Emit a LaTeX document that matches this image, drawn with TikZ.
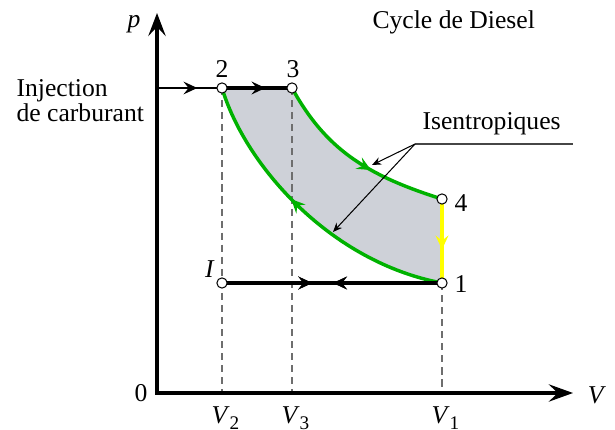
\documentclass[tikz,border=0pt]{standalone}
\usepackage{fontspec}
\setmainfont{Liberation Serif}
\usetikzlibrary{arrows.meta,decorations.markings}
\definecolor{cyclefill}{RGB}{206,209,216}
\definecolor{isogreen}{RGB}{0,178,0}
\definecolor{isoyellow}{RGB}{255,255,0}
\definecolor{dashgray}{RGB}{110,110,110}
\definecolor{leadgray}{RGB}{70,70,70}
\begin{document}
\begin{tikzpicture}[x=0.39pt,y=-0.39pt,
  font=\fontsize{10}{12}\selectfont,
  midarrow/.style={postaction={decorate},decoration={markings,
    mark=at position #1 with {\arrow{Stealth[length=5.4pt,width=5pt,inset=2pt]}}}},
  backarrow/.style={postaction={decorate},decoration={markings,
    mark=at position #1 with {\arrowreversed{Stealth[length=5.4pt,width=5pt,inset=2pt]}}}},
  axisline/.style={line width=1.2pt,black},
  thickline/.style={line width=1.3pt,black},
  greenline/.style={line width=1.35pt,isogreen},
  yellowline/.style={line width=1.3pt,isoyellow},
  dashline/.style={line width=0.5pt,dashgray,dash pattern=on 2.8pt off 1.9pt},
  thinarrow/.style={line width=0.4pt,black,-{Stealth[length=3.6pt,width=3pt,inset=1.2pt]}},
  ptc/.style={circle,draw,fill=white,inner sep=0pt,minimum size=4pt,line width=0.4pt},
  lbl/.style={inner sep=0pt,anchor=base}
]
\useasboundingbox (0,0) rectangle (615,430);
% key coordinates (pixel grid of the reference)
\coordinate (O) at (157,393);
\coordinate (Py) at (157,13);
\coordinate (Vx) at (573,393);
\coordinate (c1) at (442,283);
\coordinate (c2) at (222,88);
\coordinate (c3) at (292,88);
\coordinate (c4) at (442,199);
\coordinate (cI) at (222,283);
\coordinate (inj) at (157,88);
\coordinate (a1) at (442,393);
\coordinate (a2) at (222,393);
\coordinate (a3) at (292,393);
\coordinate (ann) at (415,144);
\coordinate (annend) at (573,144);
\coordinate (tipU) at (372,165);
\coordinate (tipL) at (333,232);

% shaded cycle area
\fill[cyclefill] (c2) -- (c3) .. controls (325,148) and (365,175) .. (c4)
  -- (c1) .. controls (330,262) and (245,165) .. (c2) -- cycle;

% dashed guides
\draw[dashline] (c2) -- (a2);
\draw[dashline] (c3) -- (a3);
\draw[dashline] (c1) -- (a1);

% axes
\draw[axisline,line join=miter,{Stealth[length=9pt,width=6.8pt,inset=3.6pt]}-{Stealth[length=9.5pt,width=6.8pt,inset=3.6pt]}]
  (Py) -- (O) -- (Vx);

% injection arrow
\draw[line width=0.5pt,black,midarrow=0.62] (inj) -- (c2);

% cycle paths
\draw[thickline,midarrow=0.62] (c2) -- (c3);
\draw[greenline,midarrow=0.6] (c3) .. controls (325,148) and (365,175) .. (c4);
\draw[yellowline,midarrow=0.6] (c4) -- (c1);
\draw[greenline,midarrow=0.57] (c1) .. controls (330,262) and (245,165) .. (c2);
\draw[thickline,midarrow=0.41,backarrow=0.505] (cI) -- (c1);

% leader for isentropes
\draw[line width=0.45pt,leadgray] (ann) -- (annend);
\draw[thinarrow] (ann) -- (tipU);
\draw[thinarrow] (ann) -- (tipL);

% state points
\node[ptc] (p1) at (c1) {};
\node[ptc] (p2) at (c2) {};
\node[ptc] (p3) at (c3) {};
\node[ptc] (p4) at (c4) {};
\node[ptc] (pI) at (cI) {};

% labels
\node[lbl] (l2) at (222,78) {2};
\node[lbl] (l3) at (293,78) {3};
\node[lbl] (l4) at (461,212) {4};
\node[lbl] (l1) at (461,293) {1};
\node[lbl] (lI) at (210,277) {\textit{I}};
\node[lbl] (lp) at (134,28) {\textit{p}};
\node[lbl] (lV) at (597,403) {\textit{V}};
\node[lbl] (l0) at (141,401) {0};
\node[inner sep=0pt,anchor=base west] (lV2) at (211,423) {\textit{V}\raisebox{-2.4pt}{\fontsize{7.5}{8}\selectfont 2}};
\node[inner sep=0pt,anchor=base west] (lV3) at (281,423) {\textit{V}\raisebox{-2.4pt}{\fontsize{7.5}{8}\selectfont 3}};
\node[inner sep=0pt,anchor=base west] (lV1) at (431,423) {\textit{V}\raisebox{-2.4pt}{\fontsize{7.5}{8}\selectfont 1}};
\node[inner sep=0pt,anchor=base west] (title) at (372,29) {Cycle de Diesel};
\node[inner sep=0pt,anchor=base west] (isen) at (422,130) {Isentropiques};
\node[inner sep=0pt,anchor=base west] (inj1) at (16,97) {Injection};
\node[inner sep=0pt,anchor=base west] (inj2) at (16,122) {de carburant};
\end{tikzpicture}
\end{document}
